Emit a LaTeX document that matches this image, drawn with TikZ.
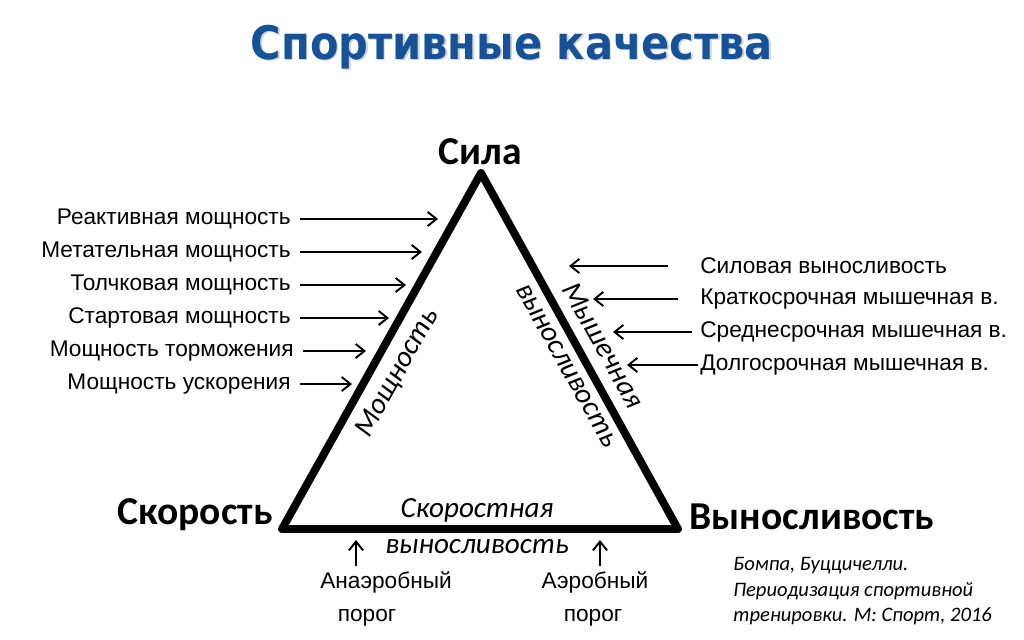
\documentclass[tikz,border=0pt]{standalone}
\usepackage{fontspec}
\setmainfont{Liberation Sans}
\newfontfamily\calfont{Carlito}
\newfontfamily\headfont{DejaVu Sans Condensed}
\usetikzlibrary{arrows.meta,positioning}
\definecolor{TitleBlue}{RGB}{22,82,152}

\begin{document}
\begin{tikzpicture}[x=0.02cm,y=-0.02cm,
        ttl/.style={font=\headfont\bfseries\fontsize{26.3}{30}\selectfont},
        vtx/.style={font=\calfont\bfseries\fontsize{22.5}{26}\selectfont,inner sep=0pt},
        lbl/.style={font=\fontsize{12.9}{15}\selectfont,inner sep=0pt},
        side/.style={font=\calfont\itshape\fontsize{16.6}{20.5}\selectfont,inner sep=0pt,align=center},
        src/.style={font=\calfont\itshape\fontsize{11.7}{14.5}\selectfont,align=left,inner sep=0pt},
        tri/.style={draw=black,line width=4.5pt,line join=round},
        arr/.style={draw=black,line width=1.1pt,-{Straight Barb[length=5pt,width=8pt]}},
        larr/.style={arr,shorten <=0.18cm}
      ]
        \useasboundingbox (0,0) rectangle (1024,639);
        % title
        \node[ttl,text=gray!35] at (513.5,48.5) {Спортивные качества};
        \node[ttl,text=TitleBlue] (title) at (512,47) {Спортивные качества};
        % triangle
        \coordinate (top) at (481,173);
        \coordinate (bl) at (282,529);
        \coordinate (br) at (678,529);
        \draw[tri] (top) -- (br) -- (bl) -- cycle;
        \node[vtx] (sila) at (480,152) {Сила};
        \node[vtx] (skor) at (195,515) {Скорость};
        \node[vtx] (vyn) at (812,517) {Выносливость};
        \node[side,rotate=60.8] (mosh) at (398,373) {Мощность};
        \node[side,rotate=-60.8,font=\calfont\itshape\fontsize{16.6}{23}\selectfont] (mysh) at (586,355) {Мышечная\\выносливость};
        \node[side] (skv) at (477,526) {Скоростная\\выносливость};
        % left side
        \node[lbl,anchor=east,inner xsep=0.18cm] (l1) at (300,219) {Реактивная мощность};
        \node[lbl,anchor=east,inner xsep=0.18cm] (l2) at (300,252) {Метательная мощность};
        \node[lbl,anchor=east,inner xsep=0.18cm] (l3) at (300,285) {Толчковая мощность};
        \node[lbl,anchor=east,inner xsep=0.18cm] (l4) at (300,318) {Стартовая мощность};
        \node[lbl,anchor=east,inner xsep=0.18cm] (l5) at (303,351) {Мощность торможения};
        \node[lbl,anchor=east,inner xsep=0.18cm] (l6) at (300,384) {Мощность ускорения};
        \coordinate (t1) at (438,221);
        \coordinate (t2) at (422,254);
        \coordinate (t3) at (406,287);
        \coordinate (t4) at (389,320);
        \coordinate (t5) at (366,353);
        \coordinate (t6) at (352,386);
        \draw[arr] (l1.east) -- (l1.east -| t1);
        \draw[arr] (l2.east) -- (l2.east -| t2);
        \draw[arr] (l3.east) -- (l3.east -| t3);
        \draw[arr] (l4.east) -- (l4.east -| t4);
        \draw[arr] (l5.east) -- (l5.east -| t5);
        \draw[arr] (l6.east) -- (l6.east -| t6);
        % right side
        \node[lbl,anchor=west] (r1) at (700,266) {Силовая выносливость};
        \node[lbl,anchor=west] (r2) at (700,299) {Краткосрочная мышечная в.};
        \node[lbl,anchor=west] (r3) at (700,332) {Среднесрочная мышечная в.};
        \node[lbl,anchor=west] (r4) at (700,365) {Долгосрочная мышечная в.};
        \coordinate (s1) at (569,266);
        \coordinate (s2) at (593,299);
        \coordinate (s3) at (613,332);
        \coordinate (s4) at (627,365);
        \draw[arr,shorten <=0.64cm] (r1.west) -- (r1.west -| s1);
        \draw[arr,shorten <=0.44cm] (r2.west) -- (r2.west -| s2);
        \draw[arr,shorten <=0.16cm] (r3.west) -- (r3.west -| s3);
        \draw[arr,shorten <=0.04cm] (r4.west) -- (r4.west -| s4);
        % thresholds
        \node[lbl] (an1) at (386,582) {Анаэробный};
        \node[lbl] (an2) at (367,618) {порог};
        \node[lbl] (ae1) at (595,582) {Аэробный};
        \node[lbl] (ae2) at (593,618) {порог};
        \coordinate (ua) at (356,540);
        \coordinate (ub) at (600,540);
        \draw[arr] (ua |- 0,566) -- (ua);
        \draw[arr] (ub |- 0,566) -- (ub);
        % source
        \node[src,anchor=north west] (src) at (733,557) {Бомпа, Буццичелли.\\Периодизация спортивной\\тренировки. М: Спорт, 2016};
      \end{tikzpicture}
\end{document}
